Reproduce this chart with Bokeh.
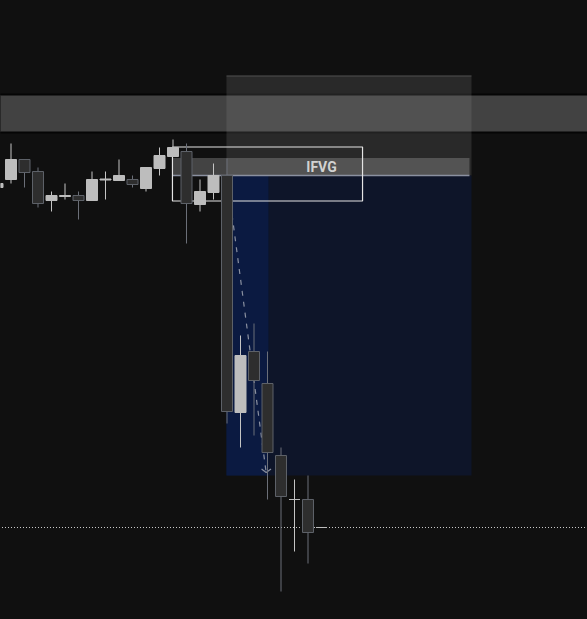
from bokeh.plotting import figure
from bokeh.embed import file_html
from bokeh.resources import INLINE
from bokeh.core.properties import value
from bokeh.models import ColumnDataSource, Range1d

# ---- data (price units, bar index) ----
bar_index = list(range(25))
opens  = [432, 440, 460, 448, 419, 423, 424, 419, 439.5, 439, 440, 431, 451, 463, 468, 415, 427, 444, 207, 268, 236, 164, 120, 120, 92]
highs  = [438, 476, 460, 452, 428, 436, 428, 448, 448, 460, 444, 452, 472, 480, 476, 440, 456, 461, 284, 296, 268, 172, 140, 144, 92]
lows   = [430, 436, 432, 412, 408, 420, 400, 419, 420, 439, 432, 428, 444, 463, 376, 408, 420, 196, 172, 184, 120, 28, 68, 56, 92]
closes = [436, 460, 447, 416, 424, 424, 419, 440, 440.5, 444, 435, 452, 464, 472, 416, 428, 444, 208, 264, 239, 167, 123, 120, 87, 92]

# horizontal level band (price)
band_top, band_bottom = 524.5, 487.5
# zone box (bar index / price)
zone_left, zone_right = 16.96, 35.11
zone_top, zone_mid, zone_bottom = 544, 444, 144
zone_bright_right = 20.07
# IFVG bar
ifvg_left, ifvg_right = 12.96, 34.96
ifvg_top, ifvg_bottom = 461.5, 444
ifvg_label_x, ifvg_label_y = 24.0, 452.5
# white outline box
box_left, box_right, box_top, box_bottom = 12.96, 27.04, 472.5, 418.5
# dashed arrow path
arrow_x = [17.37, 19.90]
arrow_y = [405, 147]
arrow_head_x = [19.56, 19.90, 20.26]
arrow_head_y = [150.5, 147, 150.5]
# last price line
last_price = 92

BG = "#101010"

p = figure(width=587, height=619, output_backend="svg", toolbar_location=None,
           x_range=Range1d(3 / 13.5, 590 / 13.5), y_range=Range1d(0, 619),
           min_border=0, background_fill_color=BG, border_fill_color=BG,
           outline_line_color=None)
p.xaxis.visible = False
p.yaxis.visible = False
p.grid.visible = False

X0, X1 = -5, 50

# horizontal band
p.quad(left=[X0], right=[X1], top=[band_top], bottom=[band_bottom],
       fill_color="#424242", line_color=None)
p.segment(x0=[X0, X0], x1=[X1, X1], y0=[band_top + 0.5, band_bottom - 0.5],
          y1=[band_top + 0.5, band_bottom - 0.5], line_color="#050505", line_width=2)

# grey zone box
p.quad(left=[zone_left], right=[zone_right], top=[zone_top], bottom=[zone_mid],
       fill_color="#909090", fill_alpha=0.2, line_color=None)
p.segment(x0=[zone_left], x1=[zone_right], y0=[zone_top - 0.5], y1=[zone_top - 0.5],
          line_color="#909090", line_alpha=0.25, line_width=1.5)

# IFVG bar
p.quad(left=[ifvg_left], right=[ifvg_right], top=[ifvg_top], bottom=[ifvg_bottom],
       fill_color="#a4a4a4", fill_alpha=0.35, line_color=None)

# blue area
p.quad(left=[zone_left], right=[zone_right], top=[zone_mid], bottom=[zone_bottom],
       fill_color="#0e1529", line_color=None)
p.quad(left=[zone_left], right=[zone_bright_right], top=[zone_mid], bottom=[zone_bottom],
       fill_color="#0b1a41", line_color=None)
p.segment(x0=[ifvg_left], x1=[ifvg_right], y0=[ifvg_bottom], y1=[ifvg_bottom],
          line_color="#8a90a0", line_width=1.5)

# white outline box
p.quad(left=[box_left], right=[box_right], top=[box_top], bottom=[box_bottom],
       fill_color=None, line_color="#e4e4e4", line_width=1.2)

p.text(x=[ifvg_label_x], y=[ifvg_label_y], text=["IFVG"], text_align="center",
       text_baseline="middle", text_font=value("Roboto"), text_font_size="14px",
       text_color="#d2d2d2", text_font_style="bold")

# dashed arrow
p.line(arrow_x, arrow_y, line_color="#8a90a0", line_width=1.2, line_dash="5 6")
p.line(arrow_head_x, arrow_head_y, line_color="#8a90a0", line_width=1.2)

# last price dotted line
p.segment(x0=[X0], x1=[X1], y0=[last_price], y1=[last_price],
          line_color="#c8c8c8", line_width=1, line_dash="1 2")

# candles
up = [i for i in bar_index if closes[i] >= opens[i]]
dn = [i for i in bar_index if closes[i] < opens[i]]

def src(idx):
    return ColumnDataSource(dict(
        x=[bar_index[i] for i in idx],
        h=[highs[i] for i in idx],
        l=[lows[i] for i in idx],
        top=[max(opens[i], closes[i]) for i in idx],
        bot=[min(opens[i], closes[i]) for i in idx],
    ))

su, sd = src(up), src(dn)
BW = 11 / 13.5
p.segment(x0="x", x1="x", y0="l", y1="h", source=sd, line_color="#6b6f78", line_width=1)
p.vbar(x="x", width=BW, top="top", bottom="bot", source=sd,
       fill_color="#2e2e2e", line_color="#5d6168", line_width=1)
p.segment(x0="x", x1="x", y0="l", y1="h", source=su, line_color="#c4c4c4", line_width=1)
p.vbar(x="x", width=BW, top="top", bottom="bot", source=su,
       fill_color="#bdbdbd", line_color="#bdbdbd", line_width=1)

html = file_html(p, INLINE)
html = html.replace("<head>", "<head><style>html,body{background:#101010;}</style>", 1)
open("out.html", "w").write(html)
